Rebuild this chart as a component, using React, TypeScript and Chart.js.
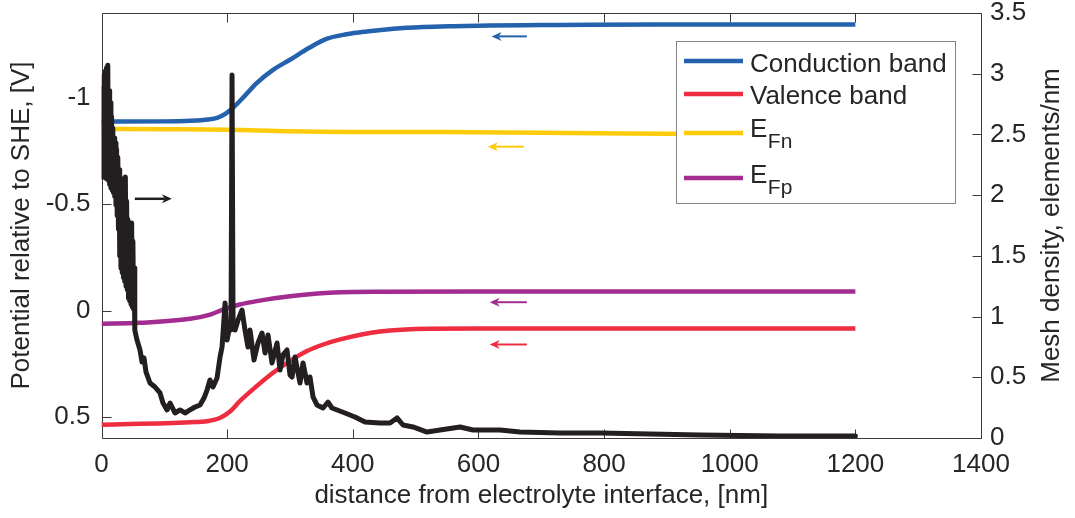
import React, { useEffect, useRef } from 'react';
import { Chart, registerables } from 'chart.js';

Chart.register(...registerables);

// ---------- DATA ----------
const xTicks = [0, 200, 400, 600, 800, 1000, 1200, 1400];
const leftTicks = [-1, -0.5, 0, 0.5];
const rightTicks = [0, 0.5, 1, 1.5, 2, 2.5, 3, 3.5];

const cbX = [0, 100, 141, 170, 184, 197, 209, 228, 247, 272, 300, 330, 359, 390, 422, 465, 512, 560, 619, 700, 778, 900, 1050, 1200];
const cbY = [-0.889, -0.89, -0.893, -0.899, -0.906, -0.925, -0.953, -1.01, -1.07, -1.13, -1.18, -1.235, -1.279, -1.3, -1.313, -1.326, -1.334, -1.338, -1.341, -1.343, -1.345, -1.346, -1.346, -1.346];

const vbX = [0, 141, 168, 189, 205, 220, 247, 273, 300, 327, 353, 380, 443, 523, 600, 1200];
const vbY = [0.538, 0.526, 0.521, 0.505, 0.474, 0.427, 0.356, 0.293, 0.238, 0.191, 0.16, 0.136, 0.099, 0.086, 0.085, 0.085];

const efnX = [0, 100, 200, 300, 400, 539, 700, 901, 1050, 1200];
const efnY = [-0.854, -0.853, -0.851, -0.843, -0.84, -0.84, -0.836, -0.832, -0.829, -0.826];

const efpX = [0, 61, 141, 173, 194, 220, 247, 300, 380, 443, 600, 1200];
const efpY = [0.062, 0.058, 0.039, 0.019, -0.005, -0.028, -0.044, -0.067, -0.086, -0.088, -0.089, -0.089];

const meshX = [
  0, 1, 2, 3, 4, 5, 6, 7, 8, 9, 10, 11, 12, 13, 14, 15, 16, 17, 18, 19, 20, 21, 22, 23, 24, 25, 26,
  27, 28, 29, 30, 31, 32, 33, 34, 35, 36, 37, 38, 39, 40, 41, 42, 43, 44, 45, 46, 47, 48, 49, 50, 51, 52, 53,
  56.5, 61.3, 64.5, 67.7, 70.8, 77.2, 85.2, 93.1, 97.9, 104.3, 109.1, 117.0, 125.0, 132.9, 140.9, 148.9,
  156.8, 163.2, 168.0, 172.7, 177.5, 183.9, 188.7, 191.9, 196.7, 199.9, 203.0, 206.2, 207.8, 209.4, 212.6,
  217.4, 223.7, 228.4, 233.2, 236.4, 242.8, 249.1, 255.5, 260.3, 265.1, 271.4, 279.4, 284.2, 288.9, 295.3,
  300.1, 303.3, 308.0, 316.0, 320.8, 327.1, 331.9, 336.7, 343.0, 352.6, 360.6, 366.9, 387.6, 403.5, 419.5,
  443.3, 459.3, 470.4, 479.9, 495.9, 518.2, 538.9, 570.7, 591.4, 634.4, 666.3, 730.0, 793.6, 873.2, 952.8,
  1080.1, 1200,
];
const meshY = [
  2.78, 2.15, 2.88, 2.15, 2.99, 2.15, 3.02, 2.14, 3.05, 2.13, 3.07, 2.12, 2.86, 2.09, 2.76, 2.06, 2.65,
  2.04, 2.55, 2.02, 2.47, 1.99, 2.43, 1.92, 2.38, 1.83, 2.31, 1.72, 2.21, 1.5, 2.14, 1.4, 2.09, 1.36, 2.02,
  1.32, 1.96, 1.29, 2.15, 1.25, 1.95, 1.22, 1.8, 1.15, 1.77, 1.13, 1.77, 1.1, 1.77, 1.08, 1.62, 1.06, 1.4, 0.89,
  0.807, 0.725, 0.626, 0.659, 0.544, 0.453, 0.42, 0.371, 0.288, 0.231, 0.288, 0.206, 0.231, 0.206, 0.231,
  0.255, 0.272, 0.329, 0.395, 0.478, 0.42, 0.494, 0.667, 0.749, 1.112, 0.807, 0.889, 0.889, 2.989, 0.972,
  0.889, 0.972, 1.054, 0.889, 0.749, 0.889, 0.642, 0.782, 0.865, 0.7, 0.848, 0.618, 0.782, 0.56, 0.684,
  0.725, 0.519, 0.502, 0.667, 0.453, 0.618, 0.453, 0.502, 0.338, 0.272, 0.247, 0.296, 0.247, 0.206, 0.173,
  0.132, 0.124, 0.124, 0.165, 0.107, 0.091, 0.049, 0.066, 0.091, 0.066, 0.066, 0.049, 0.041, 0.041, 0.033,
  0.025, 0.016, 0.016,
];

const legendMain = ['Conduction band', 'Valence band', 'E', 'E'];
const legendSub = ['', '', 'Fn', 'Fp'];
const seriesColors = ['#2462ad', '#ee2d40', '#fdcb0b', '#a32c90'];
const meshColor = '#231f20';

// arrows: tail x, head x, value, axis, color
const arrowTail = [53, 677, 672, 677, 677];
const arrowHead = [112, 621, 615, 618, 618];
const arrowVal = [1.97, -1.29, -0.771, -0.039, 0.16];
const arrowAxis = ['y2', 'y', 'y', 'y', 'y'];
const arrowColor = [meshColor, '#2462ad', '#fdcb0b', '#a32c90', '#ee2d40'];

const xTitle = 'distance from electrolyte interface, [nm]';
const yTitle = 'Potential relative to SHE, [V]';
const y2Title = 'Mesh density, elements/nm';

const FONT = "'Liberation Sans', Arial, Helvetica, sans-serif";
const TEXT = '#262626';
const AXIS = '#3a3a3a';

const pts = (xs: number[], ys: number[]) => xs.map((x, i) => ({ x, y: ys[i] }));

const decor = {
  id: 'decor',
  beforeDatasetsDraw(chart: any) {
    const { ctx, chartArea: a, scales } = chart;
    const L = Math.round(a.left) + 0.5, R = Math.round(a.right) + 0.5;
    const T = Math.round(a.top) + 0.5, B = Math.round(a.bottom) + 0.5;
    const TL = 9;
    ctx.save();
    ctx.strokeStyle = AXIS;
    ctx.lineWidth = 1;
    ctx.beginPath();
    ctx.rect(L, T, R - L, B - T);
    scales.x.ticks.forEach((t: any) => {
      const px = Math.round(scales.x.getPixelForValue(t.value)) + 0.5;
      ctx.moveTo(px, B); ctx.lineTo(px, B - TL);
      ctx.moveTo(px, T); ctx.lineTo(px, T + TL);
    });
    scales.y.ticks.forEach((t: any) => {
      const py = Math.round(scales.y.getPixelForValue(t.value)) + 0.5;
      ctx.moveTo(L, py); ctx.lineTo(L + TL, py);
    });
    scales.y2.ticks.forEach((t: any) => {
      const py = Math.round(scales.y2.getPixelForValue(t.value)) + 0.5;
      ctx.moveTo(R, py); ctx.lineTo(R - TL, py);
    });
    ctx.stroke();
    ctx.restore();
  },
  afterDatasetsDraw(chart: any) {
    const { ctx, chartArea: a, scales } = chart;
    ctx.save();
    // arrows
    arrowTail.forEach((tx, i) => {
      const sc = scales[arrowAxis[i]];
      const y = sc.getPixelForValue(arrowVal[i]);
      const x0 = scales.x.getPixelForValue(tx);
      const x1 = scales.x.getPixelForValue(arrowHead[i]);
      const dir = Math.sign(x1 - x0);
      const hl = 10, hw = 4.5;
      ctx.strokeStyle = arrowColor[i];
      ctx.fillStyle = arrowColor[i];
      ctx.lineWidth = i === 0 ? 2.5 : 2;
      ctx.beginPath();
      ctx.moveTo(x0, y);
      ctx.lineTo(x1 - dir * hl * 0.7, y);
      ctx.stroke();
      ctx.beginPath();
      ctx.moveTo(x1, y);
      ctx.lineTo(x1 - dir * hl, y - hw);
      ctx.lineTo(x1 - dir * hl * 0.7, y);
      ctx.lineTo(x1 - dir * hl, y + hw);
      ctx.closePath();
      ctx.fill();
    });
    // legend
    const bx = a.right - 305, by = a.top + 28, bw = 279, bh = 162;
    ctx.fillStyle = '#ffffff';
    ctx.fillRect(bx, by, bw, bh);
    ctx.strokeStyle = '#858585';
    ctx.lineWidth = 1;
    ctx.strokeRect(Math.round(bx) + 0.5, Math.round(by) + 0.5, bw, bh);
    const lineY = [20, 53, 92, 137];
    const baseY = [31, 63, 96, 142];
    legendMain.forEach((txt, i) => {
      ctx.strokeStyle = seriesColors[i];
      ctx.lineWidth = 4.5;
      ctx.beginPath();
      ctx.moveTo(bx + 8, by + lineY[i]);
      ctx.lineTo(bx + 67, by + lineY[i]);
      ctx.stroke();
      ctx.fillStyle = TEXT;
      ctx.textAlign = 'left';
      ctx.textBaseline = 'alphabetic';
      ctx.font = `26px ${FONT}`;
      ctx.fillText(txt, bx + 74, by + baseY[i]);
      if (legendSub[i]) {
        const w = ctx.measureText(txt).width;
        ctx.font = `21px ${FONT}`;
        ctx.fillText(legendSub[i], bx + 74 + w + 0.5, by + baseY[i] + 11);
      }
    });
    // right axis title (reads bottom-to-top)
    ctx.fillStyle = TEXT;
    ctx.font = `26px ${FONT}`;
    ctx.textAlign = 'center';
    ctx.textBaseline = 'middle';
    ctx.translate(1052, (a.top + a.bottom) / 2);
    ctx.rotate(-Math.PI / 2);
    ctx.fillText(y2Title, 0, 0);
    ctx.restore();
  },
};

export default function App() {
  const ref = useRef<HTMLCanvasElement>(null);
  useEffect(() => {
    if (!ref.current) return;
    const font = { family: FONT, size: 26 };
    const vFit = (w: number) => (s: any) => {
      s.width = w;
      s.paddingTop = 0;
      s.paddingBottom = 0;
    };
    const chart = new Chart(ref.current, {
      type: 'line',
      data: {
        datasets: [
          { label: 'mesh', data: pts(meshX, meshY), yAxisID: 'y2', borderColor: meshColor, borderWidth: 5, tension: 0, borderJoinStyle: 'round', borderCapStyle: 'round', order: 0 },
          { label: legendMain[0], data: pts(cbX, cbY), yAxisID: 'y', borderColor: seriesColors[0], borderWidth: 4.5, cubicInterpolationMode: 'monotone', order: 1 },
          { label: legendMain[1], data: pts(vbX, vbY), yAxisID: 'y', borderColor: seriesColors[1], borderWidth: 4.5, cubicInterpolationMode: 'monotone', order: 1 },
          { label: 'EFn', data: pts(efnX, efnY), yAxisID: 'y', borderColor: seriesColors[2], borderWidth: 4.5, cubicInterpolationMode: 'monotone', order: 1 },
          { label: 'EFp', data: pts(efpX, efpY), yAxisID: 'y', borderColor: seriesColors[3], borderWidth: 4.5, cubicInterpolationMode: 'monotone', order: 1 },
        ],
      } as any,
      options: {
        animation: false,
        responsive: true,
        maintainAspectRatio: false,
        layout: { padding: { top: 13, left: 0, right: 0, bottom: 0 } },
        elements: { point: { radius: 0 } },
        plugins: { legend: { display: false }, tooltip: { enabled: false } },
        scales: {
          x: {
            type: 'linear', position: 'bottom', min: 0, max: 1400,
            afterBuildTicks: (s: any) => { s.ticks = xTicks.map((v) => ({ value: v })); },
            ticks: { callback: (v: any) => String(v), padding: 11, font, color: TEXT, maxRotation: 0, autoSkip: false },
            grid: { display: false, drawTicks: false }, border: { display: false },
            title: { display: true, text: xTitle, font, color: TEXT, padding: { top: 4, bottom: 7 } },
            afterFit: (s: any) => { s.height = 80; s.paddingLeft = 0; s.paddingRight = 0; },
          },
          y: {
            type: 'linear', position: 'left', reverse: true, min: -1.4, max: 0.6,
            afterBuildTicks: (s: any) => { s.ticks = leftTicks.map((v) => ({ value: v })); },
            ticks: { callback: (v: any) => String(v), padding: 11, font, color: TEXT, autoSkip: false },
            grid: { display: false, drawTicks: false }, border: { display: false },
            title: { display: true, text: yTitle, font, color: TEXT, padding: { top: 6, bottom: 0 } },
            afterFit: vFit(101.5),
          },
          y2: {
            type: 'linear', position: 'right', min: 0, max: 3.5,
            afterBuildTicks: (s: any) => { s.ticks = rightTicks.map((v) => ({ value: v })); },
            ticks: { callback: (v: any) => String(v), padding: 9, font, color: TEXT, autoSkip: false },
            grid: { display: false, drawTicks: false }, border: { display: false },
            afterFit: vFit(94),
          },
        },
      } as any,
      plugins: [decor],
    });
    return () => chart.destroy();
  }, []);
  return (
    <div style={{ position: 'absolute', left: 0, top: 0, width: 1075, height: 518, background: '#fff' }}>
      <canvas ref={ref} />
    </div>
  );
}
